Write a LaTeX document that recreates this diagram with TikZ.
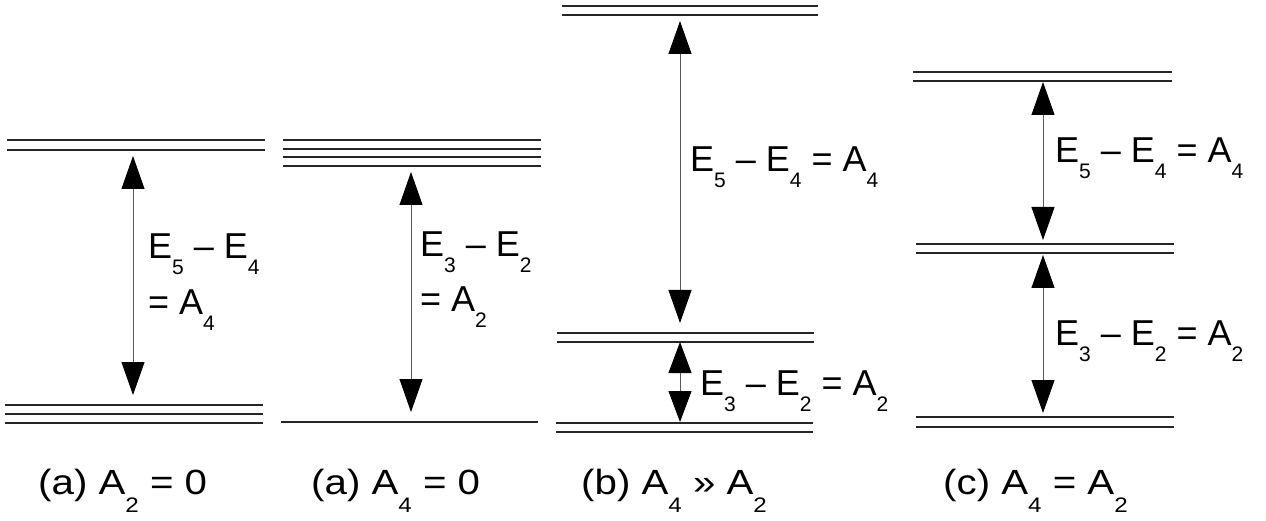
\documentclass[tikz,border=0pt]{standalone}
\usepackage{fontspec}
\setmainfont{Liberation Sans}
\usetikzlibrary{arrows.meta}
\newcommand{\lsub}[1]{\raisebox{-16pt}{\fontsize{21}{21}\selectfont #1}}
\newcommand{\csub}[1]{\raisebox{-18pt}{\fontsize{21}{21}\selectfont #1}}
\tikzset{
  lvl/.style={line width=1.3pt, draw=black!85},
  dbl/.style={
    {Triangle[length=33pt,width=23pt,color=black]}-{Triangle[length=33pt,width=23pt,color=black]},
    line width=1pt, draw=black!65},
  dblshort/.style={
    {Triangle[length=31pt,width=23pt,color=black]}-{Triangle[length=31pt,width=23pt,color=black]},
    line width=1pt, draw=black!65},
  lab/.style={anchor=base west, inner sep=0pt, font=\fontsize{36}{40}\selectfont},
  captext/.style={anchor=base west, inner sep=0pt, font=\fontsize{35}{40}\selectfont, xscale=1.15}
}
\begin{document}
\begin{tikzpicture}[x=1pt,y=-1pt]
\useasboundingbox (0,0) rectangle (1266,521);
% Panel 1
\draw[lvl] (7,140) -- (265,140);
\draw[lvl] (7,150) -- (265,150);
\draw[lvl] (5,405) -- (263,405);
\draw[lvl] (5,414) -- (263,414);
\draw[lvl] (5,423) -- (263,423);
\coordinate (p1t) at (133,156);
\coordinate (p1b) at (133,395);
\draw[dbl] (p1t) -- (p1b);
\node[lab] (l1a) at (148,259) {E\lsub{5} – E\lsub{4}};
\node[lab] (l1b) at (148,315) {= A\lsub{4}};
% Panel 2
\draw[lvl] (283,140) -- (541,140);
\draw[lvl] (283,149) -- (541,149);
\draw[lvl] (283,157) -- (541,157);
\draw[lvl] (283,166) -- (541,166);
\draw[lvl] (281,422) -- (538,422);
\coordinate (p2t) at (411,172);
\coordinate (p2b) at (411,412);
\draw[dbl] (p2t) -- (p2b);
\node[lab] (l2a) at (420,257) {E\lsub{3} – E\lsub{2}};
\node[lab] (l2b) at (420,312) {= A\lsub{2}};
% Panel 3
\draw[lvl] (562,6) -- (818,6);
\draw[lvl] (562,15) -- (818,15);
\draw[lvl] (557,333) -- (814,333);
\draw[lvl] (557,342) -- (814,342);
\draw[lvl] (556,423) -- (813,423);
\draw[lvl] (556,432) -- (813,432);
\coordinate (p3t) at (680,21);
\coordinate (p3m) at (680,323);
\coordinate (p3u) at (680,342);
\coordinate (p3b) at (680,422);
\draw[dbl] (p3t) -- (p3m);
\draw[dblshort] (p3u) -- (p3b);
\node[lab] (l3a) at (690,172) {E\lsub{5} – E\lsub{4} = A\lsub{4}};
\node[lab] (l3b) at (700,395) {E\lsub{3} – E\lsub{2} = A\lsub{2}};
% Panel 4
\draw[lvl] (913,72) -- (1172,72);
\draw[lvl] (913,81) -- (1172,81);
\draw[lvl] (916,244) -- (1174,244);
\draw[lvl] (916,253) -- (1174,253);
\draw[lvl] (916,417) -- (1174,417);
\draw[lvl] (916,427) -- (1174,427);
\coordinate (p4t) at (1043,82);
\coordinate (p4m) at (1043,240);
\coordinate (p4u) at (1043,255);
\coordinate (p4b) at (1043,413);
\draw[dbl] (p4t) -- (p4m);
\draw[dbl] (p4u) -- (p4b);
\node[lab] (l4a) at (1055,163) {E\lsub{5} – E\lsub{4} = A\lsub{4}};
\node[lab] (l4b) at (1055,345) {E\lsub{3} – E\lsub{2} = A\lsub{2}};
% Captions
\node[captext] (c1) at (38,494) {(a) A\csub{2} = 0};
\node[captext] (c2) at (311,494) {(a) A\csub{4} = 0};
\node[captext] (c3) at (581,494) {(b) A\csub{4} » A\csub{2}};
\node[captext] (c4) at (943,494) {(c) A\csub{4} = A\csub{2}};
\end{tikzpicture}
\end{document}
